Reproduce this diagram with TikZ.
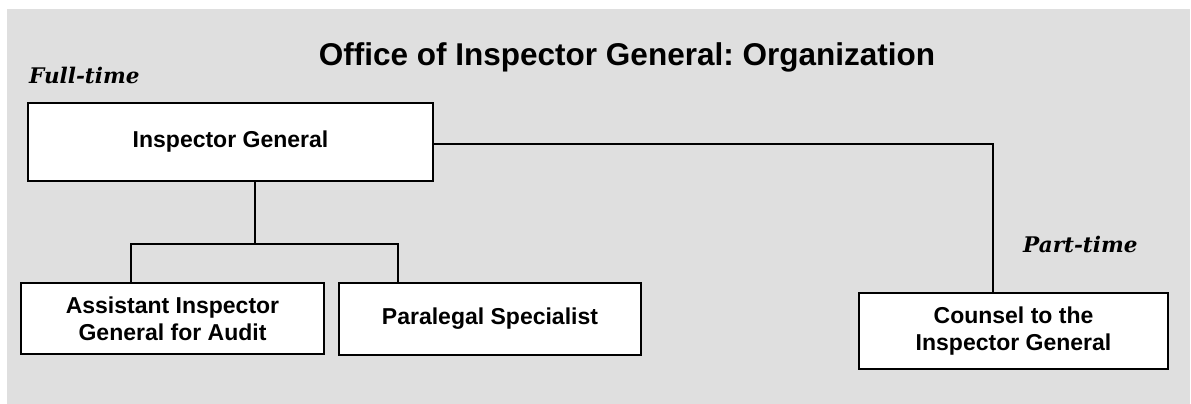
\documentclass[tikz,border=0pt]{standalone}
\usepackage{fontspec}
\setmainfont{Liberation Sans}
\newfontfamily\labelserif{DejaVu Serif}
\definecolor{bggray}{HTML}{DFDFDF}
\frenchspacing
\begin{document}
\begin{tikzpicture}[x=1pt,y=-1pt,
  orgbox/.style={draw=black, fill=white, line width=2pt, rectangle, inner sep=0pt,
    align=center, font=\fontsize{23}{27}\selectfont\bfseries},
  conn/.style={draw=black, line width=2pt},
  timelabel/.style={inner sep=0pt, anchor=base west, font=\labelserif\fontsize{21.5}{24}\selectfont\bfseries\itshape}]
\useasboundingbox (0,0) rectangle (1191,404);
\fill[white] (0,0) rectangle (1191,404);
\fill[bggray] (7,9) rectangle (1190,404);

\node[inner sep=0pt, font=\fontsize{31.5}{36}\selectfont\bfseries] (title) at (627,57) {Office of Inspector General: Organization};
\node[timelabel] (full) at (29,83) {Full-time};
\node[timelabel] (part) at (1023,252) {Part-time};

\node[orgbox, minimum width=405pt, minimum height=78pt] (ig) at (230.5,142) {Inspector General};
\node[orgbox, minimum width=303pt, minimum height=71pt] (aig) at (172.5,318.5) {Assistant Inspector\\General for Audit\hspace*{0pt}};
\node[orgbox, minimum width=302pt, minimum height=72pt] (para) at (490,319) {Paralegal Specialist};
\node[orgbox, minimum width=309pt, minimum height=76pt] (counsel) at (1013.5,331) {Counsel to the\\Inspector General};

\coordinate (jm) at (255,244);
\coordinate (jl) at (131,244);
\coordinate (jr) at (398,244);
\coordinate (cx) at (993,144);

\draw[conn] (jm |- ig.south) -- (jm);
\draw[conn] (jl |- aig.north) -- (jl) -- (jr) -- (jr |- para.north);
\draw[conn] ([yshift=-2pt]ig.east) -- (cx) -- (cx |- counsel.north);
\end{tikzpicture}
\end{document}
